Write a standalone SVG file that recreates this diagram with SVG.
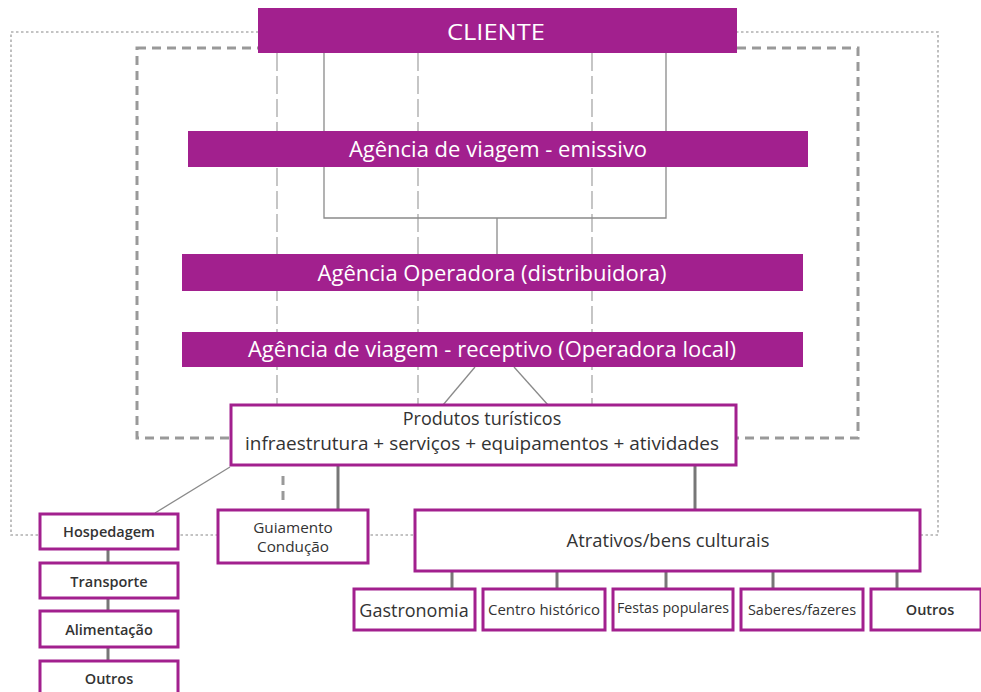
<svg xmlns="http://www.w3.org/2000/svg" width="981" height="692" viewBox="0 0 981 692">
  <style>
    .band { fill: #A2208E; }
    .band-text { fill: #ffffff; font-family: "Open Sans", "Noto Sans", sans-serif; font-size: 22px; text-anchor: middle; }
    .box { fill: #ffffff; stroke: #A2208E; stroke-width: 3; }
    .box-text { fill: #333333; font-family: "Open Sans", "Noto Sans", sans-serif; text-anchor: middle; }
    .bold { font-weight: 600; font-size: 14.5px; }
    .link { fill: none; stroke: #8a8a8a; stroke-width: 1.3; }
    .link-thick { fill: none; stroke: #777777; stroke-width: 3; }
    .thin-dash { fill: none; stroke: #a0a0a0; stroke-width: 1.2; stroke-dasharray: 18 5; }
    .outer { fill: none; stroke: #b0b0b0; stroke-width: 1.6; stroke-dasharray: 2.5 2.5; }
    .inner { fill: none; stroke: #999999; stroke-width: 3; stroke-dasharray: 9 6; }
  </style>
  <rect width="981" height="692" fill="#ffffff"/>

  <!-- boundaries -->
  <g id="boundaries">
    <rect class="outer" x="11" y="32" width="927" height="503"/>
    <rect class="inner" x="137" y="48" width="721" height="390"/>
  </g>

  <!-- connectors -->
  <g id="connectors">
    <line class="thin-dash" x1="277" y1="53" x2="277" y2="405"/>
    <line class="thin-dash" x1="418" y1="53" x2="418" y2="405"/>
    <line class="thin-dash" x1="592" y1="53" x2="592" y2="405"/>
    <path class="link" d="M324 53 V218 H666 V53"/>
    <line class="link" x1="497" y1="218" x2="497" y2="255"/>
    <line class="link" x1="475" y1="367" x2="443" y2="405"/>
    <line class="link" x1="514" y1="367" x2="548" y2="405"/>
    <line class="link" x1="230" y1="467" x2="155" y2="513"/>
    <line class="inner" x1="283" y1="476" x2="283" y2="502" stroke-width="2.5" stroke-dasharray="6 6"/>
    <line class="link-thick" x1="338" y1="465" x2="338" y2="510"/>
    <line class="link-thick" x1="695" y1="465" x2="695" y2="510"/>
    <line class="link-thick" x1="108" y1="549" x2="108" y2="563"/>
    <line class="link-thick" x1="108" y1="598" x2="108" y2="611"/>
    <line class="link-thick" x1="108" y1="647" x2="108" y2="661"/>
    <line class="link-thick" x1="452" y1="571" x2="452" y2="589"/>
    <line class="link-thick" x1="557" y1="571" x2="557" y2="589"/>
    <line class="link-thick" x1="666" y1="571" x2="666" y2="589"/>
    <line class="link-thick" x1="773" y1="571" x2="773" y2="589"/>
    <line class="link-thick" x1="897" y1="571" x2="897" y2="589"/>
  </g>

  <g id="cliente">
    <rect class="band" x="258" y="8" width="479" height="45"/>
    <text class="band-text" x="496" y="40" font-size="23" font-weight="500" textLength="98" lengthAdjust="spacingAndGlyphs">CLIENTE</text>
  </g>
  <g id="emissivo">
    <rect class="band" x="188" y="131" width="620" height="36"/>
    <text class="band-text" x="498" y="157">Agência de viagem - emissivo</text>
  </g>
  <g id="operadora">
    <rect class="band" x="182" y="254" width="621" height="37"/>
    <text class="band-text" x="492" y="281">Agência Operadora (distribuidora)</text>
  </g>
  <g id="receptivo">
    <rect class="band" x="182" y="332" width="621" height="35"/>
    <text class="band-text" x="492" y="357">Agência de viagem - receptivo (Operadora local)</text>
  </g>

  <g id="produtos">
    <rect class="box" x="231" y="405" width="505" height="60"/>
    <text class="box-text" x="482" y="425" font-size="18" font-weight="500">Produtos turísticos</text>
    <text class="box-text" x="482" y="450" font-size="18" font-weight="500" textLength="474" lengthAdjust="spacingAndGlyphs">infraestrutura + serviços + equipamentos + atividades</text>
  </g>

  <g id="hospedagem">
    <rect class="box" x="40" y="514" width="138" height="35"/>
    <text class="box-text bold" x="109" y="537" font-size="15">Hospedagem</text>
  </g>
  <g id="transporte">
    <rect class="box" x="40" y="563" width="138" height="35"/>
    <text class="box-text bold" x="109" y="587">Transporte</text>
  </g>
  <g id="alimentacao">
    <rect class="box" x="40" y="611" width="138" height="36"/>
    <text class="box-text bold" x="109" y="635" font-size="15">Alimentação</text>
  </g>
  <g id="outros-infra">
    <rect class="box" x="40" y="661" width="138" height="40"/>
    <text class="box-text bold" x="109" y="684">Outros</text>
  </g>

  <g id="guiamento">
    <rect class="box" x="218" y="510" width="150" height="53"/>
    <text class="box-text" x="293" y="533" font-size="15.3" font-weight="500">Guiamento</text>
    <text class="box-text" x="293" y="552" font-size="15.3" font-weight="500">Condução</text>
  </g>

  <g id="atrativos">
    <rect class="box" x="415" y="510" width="505" height="61"/>
    <text class="box-text" x="668" y="547" font-size="18.4">Atrativos/bens culturais</text>
  </g>

  <g id="gastronomia">
    <rect class="box" x="354" y="589" width="121" height="41"/>
    <text class="box-text" x="414" y="617" font-size="18">Gastronomia</text>
  </g>
  <g id="centro-historico">
    <rect class="box" x="483" y="589" width="122" height="41"/>
    <text class="box-text" x="544" y="615" font-size="15">Centro histórico</text>
  </g>
  <g id="festas">
    <rect class="box" x="613" y="589" width="120" height="41"/>
    <text class="box-text" x="673" y="613" font-size="14.2">Festas populares</text>
  </g>
  <g id="saberes">
    <rect class="box" x="741" y="589" width="122" height="41"/>
    <text class="box-text" x="802" y="615" font-size="14.5">Saberes/fazeres</text>
  </g>
  <g id="outros-cultura">
    <rect class="box" x="871" y="589" width="110" height="41"/>
    <text class="box-text bold" x="930" y="615" font-size="16">Outros</text>
  </g>
</svg>
